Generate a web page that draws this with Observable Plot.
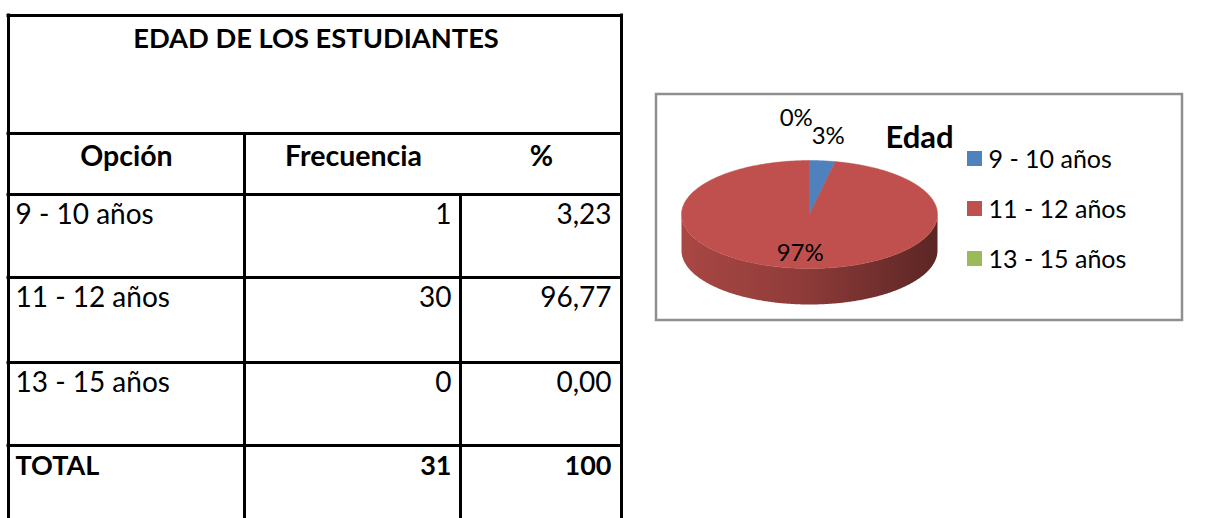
<!DOCTYPE html>
<html><head><meta charset="utf-8">
<script src="https://cdn.jsdelivr.net/npm/d3@7"></script>
<script src="https://cdn.jsdelivr.net/npm/@observablehq/plot@0.6"></script>
<style>html,body{margin:0;padding:0;background:#fff;} #chart{position:absolute;left:0;top:0;}</style>
</head><body><div id="chart"></div>
<script>
// ---- data ----
const titulo = "EDAD DE LOS ESTUDIANTES";
const encabezados = ["Opción", "Frecuencia", "%"];
const categorias = ["9 - 10 años", "11 - 12 años", "13 - 15 años"];
const frecuencias = [1, 30, 0];
const porcentajes = [3.23, 96.77, 0.00];
const totalEtiqueta = "TOTAL";
const totalFrecuencia = 31;
const totalPorcentaje = 100;
const tituloGrafico = "Edad";
const colores = ["#4F81BD", "#C0504D", "#9BBB59"];

// ---- layout ----
const W = 1232, H = 518;
const FONT = "Lato, 'Open Sans', sans-serif";
const T = {left: 8, right: 621, top: 15, titleBottom: 133, headBottom: 194,
           rows: [194, 277, 362, 445], c1: 244, c2: 460};
const fmt = v => v.toFixed(2).replace(".", ",");

const hLines = [T.top, T.titleBottom, ...T.rows].map(y => ({y, x1: T.left - 1.5, x2: T.right + 1.5}));
const vLines = [
  {x: T.left, y1: T.top - 1.5, y2: H},
  {x: T.right, y1: T.top - 1.5, y2: H},
  {x: T.c1, y1: T.titleBottom, y2: H},
  {x: T.c2, y1: T.headBottom, y2: H}
];
const headers = [
  {t: encabezados[0], x: (T.left + T.c1) / 2},
  {t: encabezados[1], x: 353},
  {t: encabezados[2], x: 541}
];
const body = categorias.map((c, i) => ({label: c, f: String(frecuencias[i]), p: fmt(porcentajes[i]), y: T.rows[i] + 29}));
const total = [{label: totalEtiqueta, f: String(totalFrecuencia), p: String(totalPorcentaje), y: T.rows[3] + 29}];

// ---- pie ----
const P = {cx: 809, cy: 214, rx: 128, ry: 54, depth: 36};
const slices = d3.pie().sort(null).value(d => d.value)(categorias.map((c, i) => ({cat: c, value: frecuencias[i]})));
const sum = d3.sum(frecuencias);
const pt = (a, dy = 0) => ({x: P.cx + P.rx * Math.sin(a), y: P.cy - P.ry * Math.cos(a) + dy});
function arc(a0, a1, dy = 0) {
  const n = Math.max(2, Math.ceil(Math.abs(a1 - a0) / 0.01));
  return d3.range(n + 1).map(k => pt(a0 + (a1 - a0) * k / n, dy));
}
const faces = [], sides = [];
slices.forEach((s, i) => {
  const cat = s.data.cat;
  if (s.endAngle - s.startAngle > 1e-9) {
    [{x: P.cx, y: P.cy}, ...arc(s.startAngle, s.endAngle), {x: P.cx, y: P.cy}]
      .forEach(p => faces.push({...p, cat}));
  }
  const a0 = Math.max(s.startAngle, Math.PI / 2), a1 = Math.min(s.endAngle, 3 * Math.PI / 2);
  if (a1 > a0) {
    const pts = [...arc(a0, a1), ...arc(a1, a0, P.depth)];
    sides.push({i, pts: pts.map(p => ({...p, cat}))});
  }
});
// labels: inside for big slices, outside for small ones, stacked if they collide
const LABEL_W = 32;
const labels = slices.map((s, i) => {
  const mid = (s.startAngle + s.endAngle) / 2;
  const inside = s.endAngle - s.startAngle > 0.6;
  const k = inside ? 0.72 : 1.45;
  return {t: Math.round(s.data.value / sum * 100) + "%", x: P.cx + k * P.rx * Math.sin(mid), y: P.cy - k * P.ry * Math.cos(mid), inside};
});
const outside = labels.filter(d => !d.inside);
for (let i = 1; i < outside.length; i++) {
  for (let j = 0; j < i; j++) {
    const a = outside[i], b = outside[j];
    if (Math.abs(a.x - b.x) < LABEL_W && Math.abs(a.y - b.y) < 18) {
      a.y = b.y - 18;
      a.x = b.x - LABEL_W;
    }
  }
}
const legend = categorias.map((c, i) => ({cat: c, y: 158.5 + i * 50}));

const marks = [
  // table
  Plot.ruleY(hLines, {y: "y", x1: "x1", x2: "x2", stroke: "#000", strokeWidth: 3}),
  Plot.ruleX(vLines, {x: "x", y1: "y1", y2: "y2", stroke: "#000", strokeWidth: 3}),
  Plot.text([titulo], {x: (T.left + T.right) / 2 + 1, y: 47, text: d => d, lineAnchor: "bottom", fontSize: 27.3, fontWeight: "bold", fill: "#000"}),
  Plot.text(headers, {x: "x", y: 165, text: "t", lineAnchor: "bottom", fontSize: 28.5, fontWeight: "bold", fill: "#000"}),
  Plot.text(body, {x: 15, y: "y", text: "label", textAnchor: "start", lineAnchor: "bottom", fontSize: 28, fill: "#000"}),
  Plot.text(body, {x: 451, y: "y", text: "f", textAnchor: "end", lineAnchor: "bottom", fontSize: 28, fill: "#000"}),
  Plot.text(body, {x: 611, y: "y", text: "p", textAnchor: "end", lineAnchor: "bottom", fontSize: 28, fill: "#000"}),
  Plot.text(total, {x: 15, y: "y", text: "label", textAnchor: "start", lineAnchor: "bottom", fontSize: 27, fontWeight: "bold", fill: "#000"}),
  Plot.text(total, {x: 451, y: "y", text: "f", textAnchor: "end", lineAnchor: "bottom", fontSize: 27, fontWeight: "bold", fill: "#000"}),
  Plot.text(total, {x: 611, y: "y", text: "p", textAnchor: "end", lineAnchor: "bottom", fontSize: 27, fontWeight: "bold", fill: "#000"}),
  // chart frame
  Plot.rect([0], {x1: 656, x2: 1182, y1: 94, y2: 320, fill: "#fff", stroke: "#8f8f8f", strokeWidth: 2.5}),
  // pie sides
  ...sides.map(s => Plot.line(s.pts, {x: "x", y: "y", fill: `url(#side-${s.i})`, stroke: "none", curve: "linear"})),
  // pie faces
  Plot.line(faces, {x: "x", y: "y", z: "cat", fill: "cat", stroke: "cat", strokeWidth: 0.5, curve: "linear"}),
  Plot.text(labels, {x: "x", y: "y", text: "t", fontSize: 24, fill: "#000"}),
  // chart title and legend
  Plot.text([tituloGrafico], {x: 919, y: 147, text: d => d, lineAnchor: "bottom", fontSize: 31, fontWeight: "bold", fill: "#000"}),
  Plot.rect(legend, {x1: 967, x2: 982, y1: d => d.y - 7.5, y2: d => d.y + 7.5, fill: "cat"}),
  Plot.text(legend, {x: 988, y: d => d.y + 8.5, text: "cat", textAnchor: "start", lineAnchor: "bottom", fontSize: 25, fill: "#000"})
];

const svg = Plot.plot({
  width: W, height: H, margin: 0,
  style: {fontFamily: FONT, background: "#fff", color: "#000"},
  x: {domain: [0, W], range: [0, W], axis: null},
  y: {domain: [0, H], range: [0, H], axis: null},
  color: {domain: categorias, range: colores},
  marks
});
// gradients for the pie's side walls, derived from each slice colour
const defs = d3.select(svg).insert("defs", ":first-child");
sides.forEach(s => {
  const base = d3.color(colores[s.i]);
  const g = defs.append("linearGradient").attr("id", `side-${s.i}`).attr("x1", 0).attr("x2", 1).attr("y1", 0).attr("y2", 0);
  [[0, base.darker(0.35)], [0.45, base.darker(0.8)], [1, base.darker(2.1)]].forEach(([o, c]) =>
    g.append("stop").attr("offset", o).attr("stop-color", c.formatHex()));
});
document.getElementById("chart").appendChild(svg);
</script>
</body></html>
